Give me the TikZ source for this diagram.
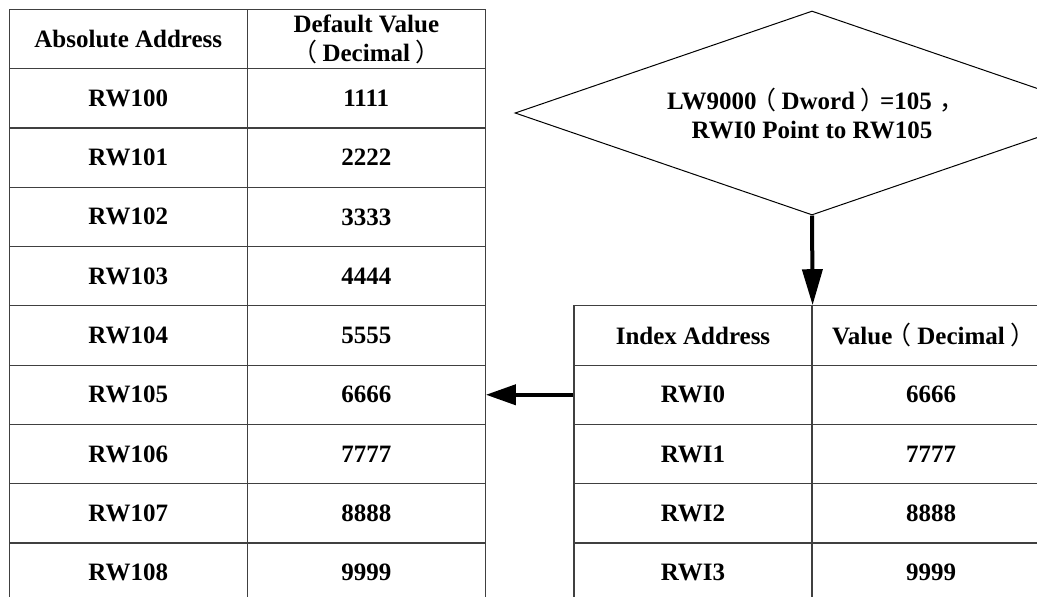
\documentclass[tikz,border=0pt]{standalone}
\usepackage{fontspec}
\setmainfont{Liberation Serif}
\newfontfamily\cjkfont{Noto Sans CJK SC}
\usetikzlibrary{shapes.geometric,arrows.meta}
\newcommand{\zlp}{\kern-0.22em{\cjkfont\mdseries （}\kern0.22em}
\newcommand{\zrp}{\kern0.22em{\cjkfont\mdseries ）}\kern-0.22em}
\newcommand{\zcm}{\kern0.3em{\cjkfont\mdseries ，}\kern-0.3em}
\begin{document}
\begin{tikzpicture}[x=0.5pt,y=-0.5pt,
  txt/.style={font=\fontsize{12.5}{14.5}\selectfont\bfseries, align=center},
  cell/.style={txt, draw=black!75, line width=0.6pt, rectangle, minimum width=119pt, minimum height=29.65pt, inner sep=0pt},
  arrdown/.style={line width=2pt, -{Triangle[length=18pt,width=10pt]}},
  arrleft/.style={line width=2pt, -{Triangle[length=15pt,width=10pt]}}]
\useasboundingbox (0,0) rectangle (1037,596);
\clip (0,0) rectangle (1037,596);
% left table
\node[cell] (La0) at (128.3,38.95) {Absolute Address};
\node[cell] (Lb0) at (366.3,38.95) {Default Value\\\zlp Decimal\zrp};
\foreach \i/\v [count=\k] in {100/1111,101/2222,102/3333,103/4444,104/5555,105/6666,106/7777,107/8888,108/9999}{
  \node[cell] (La\k) at (128.3,{38.95+59.3*\k}) {RW\i};
  \node[cell] (Lb\k) at (366.3,{38.95+59.3*\k}) {\v};
}
% right table
\node[cell] (Ra0) at (693,335.45) {Index Address};
\node[cell] (Rb0) at (931,335.45) {Value\zlp Decimal\zrp};
\foreach \i/\v [count=\k] in {0/6666,1/7777,2/8888,3/9999}{
  \node[cell] (Ra\k) at (693,{335.45+59.3*\k}) {RWI\i};
  \node[cell] (Rb\k) at (931,{335.45+59.3*\k}) {\v};
}
% diamond
\node[txt, diamond, aspect=2.9, draw=black, line width=0.5pt, minimum width=297pt, minimum height=102pt, inner sep=0pt] (dia) at (812,113)
  {LW9000\zlp Dword\zrp =105\zcm\\ RWI0 Point to RW105};
% connectors
\draw[arrdown] (dia.south) -- (Ra0.north east);
\draw[arrleft] (Ra1.west) -- (Lb6.east);
\end{tikzpicture}
\end{document}
